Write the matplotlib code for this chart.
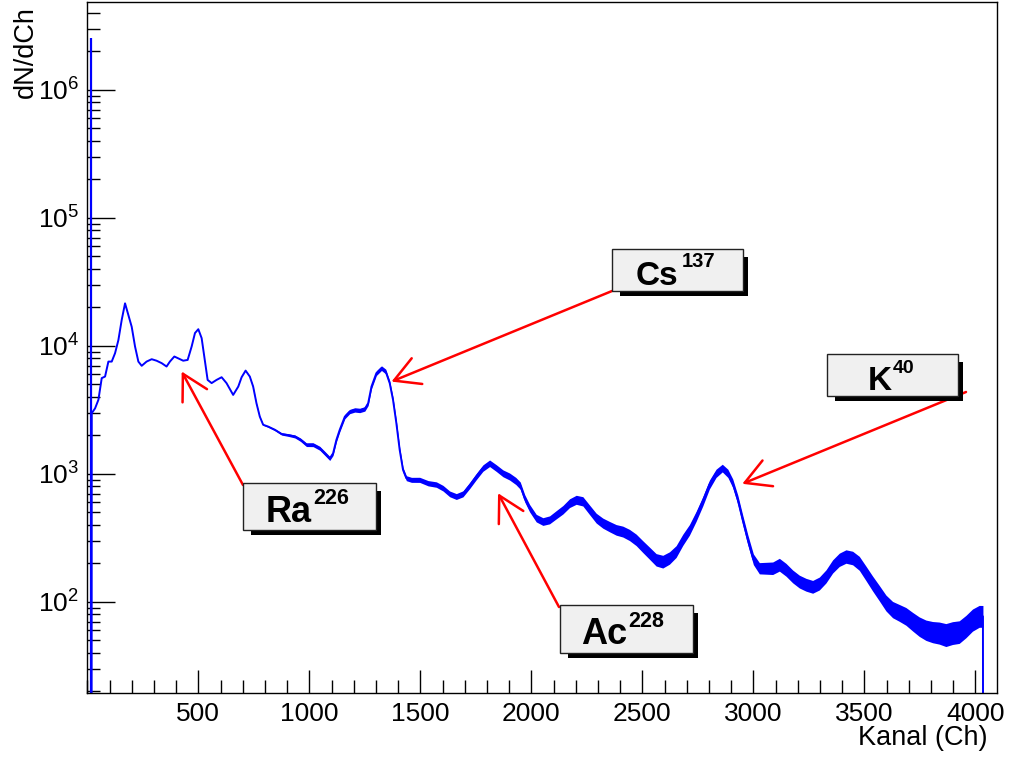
import numpy as np
import matplotlib
matplotlib.use("Agg")
import matplotlib.pyplot as plt
from matplotlib.patches import Rectangle
from matplotlib.ticker import MultipleLocator, LogLocator, FuncFormatter, NullFormatter

W, H = 1011, 762

# spectrum (channel, counts)
spec_ch = [19, 20, 35, 50, 65, 80, 95, 110, 125, 140, 155, 170, 185, 200, 215, 230, 245,
           267, 290, 312, 335, 357, 372, 392, 410, 432, 452, 470, 485, 500, 515, 527,
           542, 560, 582, 605, 627, 657, 680, 695, 713, 732, 747, 762, 777, 792, 815,
           845, 875, 905, 935, 960, 987, 1017, 1047, 1070, 1092, 1107, 1122, 1137, 1160,
           1182, 1205, 1227, 1250, 1265, 1280, 1302, 1325, 1344, 1362, 1377, 1392, 1407,
           1422, 1437, 1460, 1497, 1535, 1572, 1602, 1632, 1662, 1692, 1722, 1752, 1782,
           1812, 1842, 1872, 1902, 1930, 1950, 1970, 1992, 2022, 2052, 2082, 2112, 2142,
           2172, 2202, 2232, 2262, 2292, 2322, 2352, 2382, 2412, 2442, 2472, 2502, 2532,
           2562, 2592, 2622, 2652, 2682, 2712, 2742, 2772, 2802, 2832, 2860, 2885, 2907,
           2930, 2952, 2975, 3000, 3027, 3057, 3087, 3117, 3147, 3177, 3207, 3237, 3267,
           3297, 3327, 3357, 3387, 3417, 3447, 3477, 3507, 3537, 3567, 3597, 3627, 3657,
           3687, 3717, 3747, 3777, 3807, 3837, 3867, 3897, 3927, 3957, 3987, 4017, 4034,
           4035]
spec_counts = [1, 2980, 3250, 3790, 5600, 5760, 7540, 7540, 8770, 11100, 15960, 21500,
               17400, 14100, 9890, 7540, 6990, 7540, 7870, 7660, 7330, 6900, 7540, 8260,
               7980, 7660, 7770, 9890, 12600, 13500, 11500, 8260, 5420, 5120, 5420, 5690,
               5120, 4140, 4810, 5690, 6410, 5760, 4810, 3560, 2800, 2420, 2340, 2210,
               2050, 2010, 1960, 1850, 1690, 1690, 1585, 1445, 1320, 1445, 1845, 2210,
               2800, 3070, 3160, 3130, 3220, 3560, 4810, 6120, 6700, 6310, 5120, 3790,
               2490, 1540, 1075, 925, 898, 898, 845, 825, 773, 698, 665, 698, 810, 953,
               1110, 1210, 1110, 1010, 953, 880, 810, 645, 540, 451, 424, 437, 479, 524,
               590, 627, 610, 524, 451, 412, 387, 365, 354, 333, 305, 270, 240, 213, 206,
               220, 247, 305, 365, 465, 610, 825, 1010, 1110, 1010, 845, 627, 437, 305,
               215, 183, 183, 183, 195, 178, 158, 144, 136, 131, 139, 158, 189, 213, 226,
               220, 200, 167, 139, 117, 98, 87, 82, 77, 70, 64, 60, 58, 57, 55, 57, 58,
               64, 72, 77, 77, 1]

# overflow spike in the first channels
spike_ch = 18
spike_counts = 2.55e6

# noise half-width of the band (decades)
noise_ch = [0, 700, 800, 1000, 1500, 2050, 2400, 2600, 2860, 3100, 3270, 3450, 3650, 3870, 4035]
noise_dex = [0, 0, 0.005, 0.015, 0.02, 0.03, 0.042, 0.05, 0.03, 0.05, 0.05, 0.053,
             0.065, 0.09, 0.085]

iso_names = ["Cs", "K", "Ra", "Ac"]
iso_mass = ["137", "40", "226", "228"]
peak_ch = [1370, 2950, 425, 1850]
peak_counts = [5260, 836, 6310, 706]

plt.rcParams["font.family"] = ["Liberation Sans", "DejaVu Sans"]
plt.rcParams["mathtext.fontset"] = "custom"
plt.rcParams["mathtext.rm"] = "Liberation Sans"
plt.rcParams["mathtext.it"] = "Liberation Sans:italic"
plt.rcParams["mathtext.bf"] = "Liberation Sans:bold"


def fxy(px, py):
    return px / W, 1 - py / H


fig = plt.figure(figsize=(W / 100, H / 100), dpi=100)
ax = fig.add_axes([87.3 / W, 1 - 692.7 / H, (996.7 - 87.3) / W, (692.7 - 2.3) / H])

ch = np.array(spec_ch, dtype=float)
cnt = np.array(spec_counts, dtype=float)
half = np.interp(ch, noise_ch, noise_dex)
ax.fill_between(ch, cnt * 10 ** (-half), cnt * 10 ** half, color="#0000ff", lw=0)
ax.plot(ch, cnt, color="#0000ff", lw=1.4)
ax.vlines(spike_ch, 1, spike_counts, color="#0000ff", lw=1.6)

ax.set_yscale("log")
ax.set_xlim(0, 4096)
ax.set_ylim(19.5, 4.84e6)

ax.set_xticks(range(500, 4001, 500))
ax.xaxis.set_minor_locator(MultipleLocator(100))
ax.yaxis.set_major_locator(LogLocator(base=10))
ax.yaxis.set_minor_locator(LogLocator(base=10, subs=np.arange(2, 10)))
ax.yaxis.set_major_formatter(FuncFormatter(lambda v, p: r"$\mathregular{10^{%d}}$" % round(np.log10(v))))
ax.yaxis.set_minor_formatter(NullFormatter())

ax.tick_params(which="both", direction="in", top=False, right=False, width=1,
               labelsize=19, pad=7)
ax.tick_params(axis="y", which="major", length=20, pad=6)
ax.tick_params(axis="x", which="major", length=16.5)
ax.tick_params(which="minor", length=9.2)
for s in ax.spines.values():
    s.set_linewidth(1.0)

fig.text(*fxy(25.5, 6), "dN/dCh", rotation=90, ha="center", va="top", fontsize=19.5)
fig.text(*fxy(988, 745), "Kanal (Ch)", ha="right", va="baseline", fontsize=19.5)

# labelled boxes (pixels: left, top, right, bottom), text anchors, arrow tails
boxes = [(612, 249, 743, 291), (827, 354, 958, 396), (243, 483, 376, 530), (560, 605, 693, 653)]
main_pos = [(636, 285), (868, 390), (266, 522), (581, 644)]
sup_pos = [(682, 267), (893, 373), (313, 504), (628, 627)]
main_size = [24, 24, 26, 26]
sup_size = [14.5, 14, 15.5, 15.5]
tails = [(612, 291), (966, 392), (243, 485), (559, 607)]

for i in range(len(iso_names)):
    l, t, r, b = boxes[i]
    sx0, sy0 = fxy(l + 8, b + 5)
    sx1, sy1 = fxy(r + 5, t + 8)
    fig.add_artist(Rectangle((sx0, sy0), sx1 - sx0, sy1 - sy0, transform=fig.transFigure,
                             facecolor="black", edgecolor="black", lw=0, zorder=5))
    bx0, by0 = fxy(l, b)
    bx1, by1 = fxy(r, t)
    fig.add_artist(Rectangle((bx0, by0), bx1 - bx0, by1 - by0, transform=fig.transFigure,
                             facecolor="#f0f0f0", edgecolor="#222222", lw=1.0, zorder=6))
    fig.text(*fxy(*main_pos[i]), iso_names[i], ha="left", va="baseline",
             fontsize=main_size[i], fontweight="bold", zorder=7)
    fig.text(*fxy(*sup_pos[i]), iso_mass[i], ha="left", va="baseline",
             fontsize=sup_size[i], fontweight="bold", zorder=7)
    ax.annotate("", xy=(peak_ch[i], peak_counts[i]), xycoords="data",
                xytext=fxy(*tails[i]), textcoords="figure fraction",
                arrowprops=dict(arrowstyle="->,head_length=0.9,head_width=0.5",
                                mutation_scale=20, color="red", lw=1.8,
                                shrinkA=0, shrinkB=0),
                annotation_clip=False, zorder=4)

fig.savefig("out.png", dpi=100)
